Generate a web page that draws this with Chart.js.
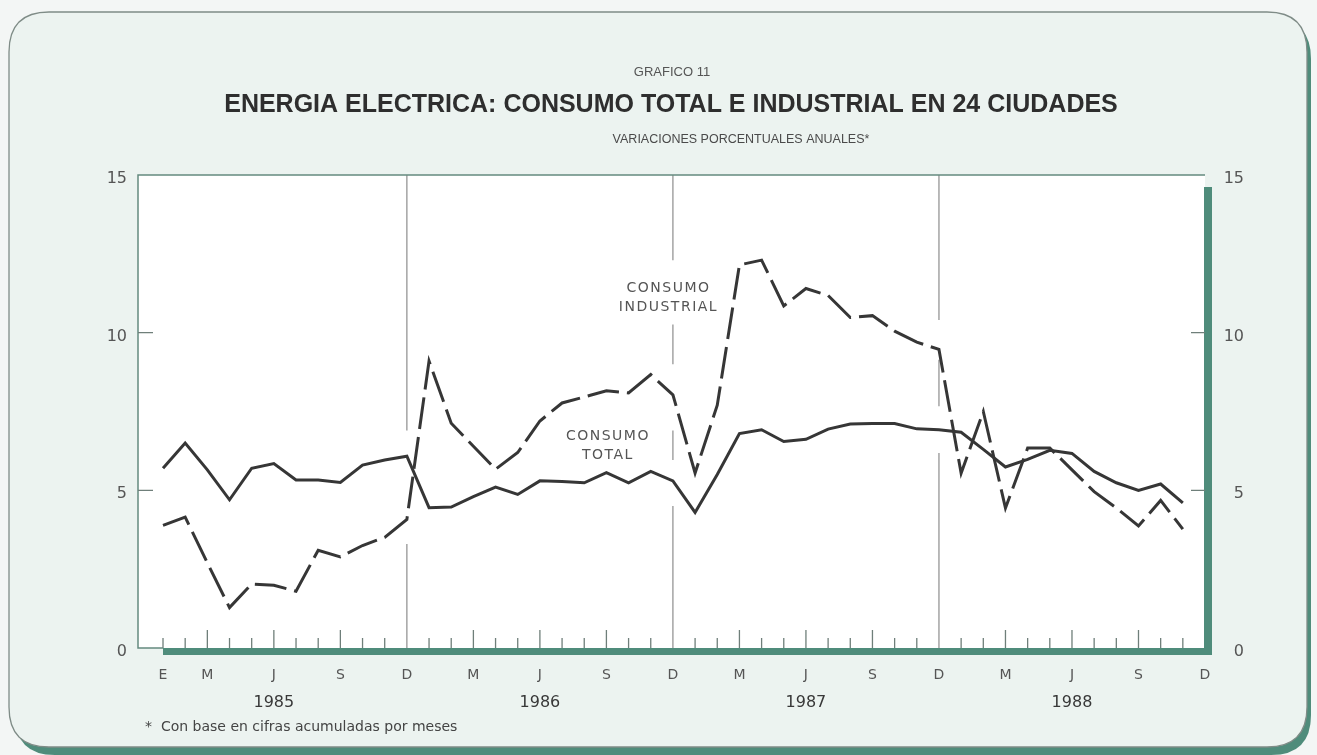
<!DOCTYPE html>
<html>
<head>
<meta charset="utf-8">
<script src="https://cdn.jsdelivr.net/npm/chart.js@4"></script>
<style>
  html, body { margin: 0; padding: 0; background: #f3f6f5; }
  canvas { display: block; }
</style>
</head>
<body>
<canvas id="grafico" width="1317" height="755"></canvas>
<script>
// variaciones % anuales, ene 1985 - nov 1988 (indice 0 = enero 1985)
const consumoTotal = [
  5.7, 6.5, 5.65, 4.7, 5.7, 5.85, 5.33, 5.33, 5.25, 5.8, 5.96, 6.08,
  4.45, 4.47, 4.8, 5.1, 4.87, 5.3, 5.28, 5.24, 5.56, 5.24, 5.6, 5.3,
  4.3, 5.5, 6.8, 6.92, 6.55, 6.62, 6.94, 7.1, 7.12, 7.12, 6.95, 6.92,
  6.84, 6.3, 5.74, 5.98, 6.27, 6.17, 5.6, 5.24, 5.0, 5.2, 4.6
]
const consumoIndustrial = [
  3.89, 4.15, 2.7, 1.28, 2.03, 1.99, 1.8, 3.1, 2.89, 3.25, 3.51, 4.08,
  9.1, 7.13, 6.4, 5.67, 6.2, 7.2, 7.77, 7.96, 8.16, 8.09, 8.67, 8.03,
  5.55, 7.7, 12.15, 12.3, 10.85, 11.4, 11.18, 10.48, 10.54, 10.05, 9.7, 9.47,
  5.54, 7.5, 4.44, 6.34, 6.34, 5.65, 4.96, 4.44, 3.87, 4.68, 3.77
]

const mesPos = [0, 2, 5, 8, 11, 14, 17, 20, 23, 26, 29, 32, 35, 38, 41, 44, 47]
const mesTxt = ['E', 'M', 'J', 'S', 'D', 'M', 'J', 'S', 'D', 'M', 'J', 'S', 'D', 'M', 'J', 'S', 'D']
const anios = ['1985', '1986', '1987', '1988']
const yTicks = [0, 5, 10, 15]

// lineas de diciembre, tramos visibles (el impreso las corta donde cruzan las curvas)
const dicTramos = {
  11: [[6.9, 15], [0, 3.3]],
  23: [[12.3, 15], [9.0, 10.26], [5.96, 6.9], [0, 4.5]],
  35: [[10.4, 15], [7.67, 9.14], [0, 6.18]]
}

const VERDE = '#4f8c7b'
const MARCO = '#648a7f'

function roundRect(ctx, x, y, w, h, r) {
  ctx.beginPath()
  ctx.moveTo(x + r, y)
  ctx.lineTo(x + w - r, y)
  ctx.quadraticCurveTo(x + w, y, x + w, y + r)
  ctx.lineTo(x + w, y + h - r)
  ctx.quadraticCurveTo(x + w, y + h, x + w - r, y + h)
  ctx.lineTo(x + r, y + h)
  ctx.quadraticCurveTo(x, y + h, x, y + h - r)
  ctx.lineTo(x, y + r)
  ctx.quadraticCurveTo(x, y, x + r, y)
  ctx.closePath()
}

const fondo = {
  id: 'fondo',
  beforeDraw(chart) {
    const ctx = chart.ctx
    const a = chart.chartArea
    const xs = chart.scales.x
    const ys = chart.scales.y
    ctx.save()
    ctx.fillStyle = '#f3f6f5'
    ctx.fillRect(0, 0, chart.width, chart.height)
    // sombra verde de la tarjeta
    roundRect(ctx, 15, 19, 1296, 736, 40)
    ctx.fillStyle = VERDE
    ctx.fill()
    roundRect(ctx, 9, 12, 1298, 735, 40)
    ctx.fillStyle = '#ecf3f0'
    ctx.fill()
    ctx.strokeStyle = '#7f8c87'
    ctx.lineWidth = 1.3
    ctx.stroke()
    // area del grafico
    ctx.fillStyle = '#ffffff'
    ctx.fillRect(a.left, a.top, a.right - a.left, a.bottom - a.top)
    // lineas de diciembre
    ctx.strokeStyle = '#8c8c8c'
    ctx.lineWidth = 1.2
    for (const m in dicTramos) {
      const x = xs.getPixelForValue(Number(m))
      for (const t of dicTramos[m]) {
        ctx.beginPath()
        ctx.moveTo(x, ys.getPixelForValue(t[0]))
        ctx.lineTo(x, ys.getPixelForValue(t[1]))
        ctx.stroke()
      }
    }
    ctx.restore()
  }
}

const marco = {
  id: 'marco',
  afterDatasetsDraw(chart) {
    const ctx = chart.ctx
    const a = chart.chartArea
    const xs = chart.scales.x
    const ys = chart.scales.y
    ctx.save()
    // marco fino izquierda y arriba
    ctx.strokeStyle = MARCO
    ctx.lineWidth = 1.5
    ctx.beginPath()
    ctx.moveTo(a.right, a.top)
    ctx.lineTo(a.left, a.top)
    ctx.lineTo(a.left, a.bottom)
    ctx.lineTo(xs.getPixelForValue(0), a.bottom)
    ctx.stroke()
    // barras gruesas abajo y derecha
    ctx.fillStyle = VERDE
    ctx.fillRect(xs.getPixelForValue(0), a.bottom, a.right - xs.getPixelForValue(0) + 7, 7)
    ctx.fillRect(a.right - 1, a.top + 12, 8, a.bottom - a.top - 5)

    // marcas mensuales
    ctx.strokeStyle = '#6f7f7a'
    ctx.lineWidth = 1.3
    for (let i = 0; i < 47; i++) {
      if (i % 12 === 11) continue
      const x = xs.getPixelForValue(i)
      const largo = (i % 12 === 2 || i % 12 === 5 || i % 12 === 8) ? 18 : 10
      ctx.beginPath()
      ctx.moveTo(x, a.bottom)
      ctx.lineTo(x, a.bottom - largo)
      ctx.stroke()
    }
    // marcas del eje y
    for (const v of [5, 10]) {
      const y = ys.getPixelForValue(v)
      ctx.beginPath()
      ctx.moveTo(a.left, y)
      ctx.lineTo(a.left + 15, y)
      ctx.moveTo(a.right, y)
      ctx.lineTo(a.right - 14, y)
      ctx.stroke()
    }

    // textos de ejes
    ctx.fillStyle = '#555'
    ctx.font = '16px "DejaVu Sans"'
    ctx.textBaseline = 'middle'
    for (const v of yTicks) {
      const y = ys.getPixelForValue(v) + 4
      ctx.textAlign = 'right'
      ctx.fillText(String(v), 127, y)
      ctx.fillText(String(v), 1244, y)
    }
    ctx.font = '14px "DejaVu Sans"'
    ctx.textAlign = 'center'
    for (let k = 0; k < mesPos.length; k++) {
      ctx.fillText(mesTxt[k], xs.getPixelForValue(mesPos[k]), 675)
    }
    ctx.fillStyle = '#383838'
    ctx.font = '16px "DejaVu Sans"'
    for (let k = 0; k < anios.length; k++) {
      ctx.fillText(anios[k], xs.getPixelForValue(12 * k + 5), 703)
    }

    // nombres de las curvas
    ctx.fillStyle = '#555'
    ctx.font = '14px "DejaVu Sans"'
    ctx.letterSpacing = '1.5px'
    ctx.fillText('CONSUMO', xs.getPixelForValue(22.8), ys.getPixelForValue(11.42))
    ctx.fillText('INDUSTRIAL', xs.getPixelForValue(22.8), ys.getPixelForValue(10.81))
    ctx.fillText('CONSUMO', xs.getPixelForValue(20.07), ys.getPixelForValue(6.72))
    ctx.fillText('TOTAL', xs.getPixelForValue(20.07), ys.getPixelForValue(6.12))
    ctx.letterSpacing = '0px'

    // titulos
    ctx.fillStyle = '#555'
    ctx.font = '13px "Liberation Sans"'
    ctx.fillText('GRAFICO 11', 672, 72)
    ctx.fillStyle = '#2e2e2e'
    ctx.font = 'bold 25px "Liberation Sans"'
    ctx.fillText('ENERGIA ELECTRICA: CONSUMO TOTAL E INDUSTRIAL EN 24 CIUDADES', 671, 105)
    ctx.fillStyle = '#4a4a4a'
    ctx.font = '12.5px "Liberation Sans"'
    ctx.fillText('VARIACIONES PORCENTUALES ANUALES*', 741, 140)

    // nota
    ctx.textAlign = 'left'
    ctx.fillStyle = '#444'
    ctx.font = '14px "DejaVu Sans"'
    ctx.fillText('*  Con base en cifras acumuladas por meses', 145, 727)
    ctx.restore()
  }
}

const ctx = document.getElementById('grafico')
const chart = new Chart(ctx, {
  type: 'line',
  data: {
    datasets: [
      {
        label: 'Consumo total',
        data: consumoTotal.map((v, i) => ({ x: i, y: v })),
        borderColor: '#363636',
        borderWidth: 3,
        pointRadius: 0,
        tension: 0
      },
      {
        label: 'Consumo industrial',
        data: consumoIndustrial.map((v, i) => ({ x: i, y: v })),
        borderColor: '#363636',
        borderWidth: 3,
        borderDash: [32, 8],
        pointRadius: 0,
        tension: 0
      }
    ]
  },
  options: {
    responsive: false,
    animation: false,
    layout: { padding: { left: 138, right: 112, top: 175, bottom: 107 } },
    plugins: { legend: { display: false }, tooltip: { enabled: false } },
    scales: {
      x: { type: 'linear', min: -1.128, max: 47, display: false },
      y: { min: 0, max: 15, display: false }
    }
  },
  plugins: [fondo, marco]
})
</script>
</body>
</html>
